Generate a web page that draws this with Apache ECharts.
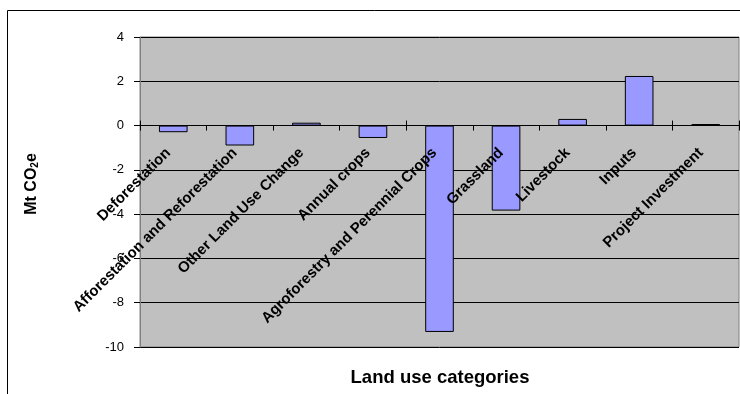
<!DOCTYPE html>
<html lang="en">
<head>
    <meta charset="UTF-8">
    <title>Land use categories</title>
    <script src="https://cdn.jsdelivr.net/npm/echarts@6/dist/echarts.min.js"></script>
    <style>
        html, body { margin: 0; padding: 0; background: #fff; }
    </style>
</head>
<body>
<div id="main" style="width: 740px;height:394px;"></div>

<script type="text/javascript">

    // data
    var categories = ['Deforestation', 'Afforestation and Reforestation', 'Other Land Use Change',
        'Annual crops', 'Agroforestry and Perennial Crops', 'Grassland', 'Livestock', 'Inputs',
        'Project Investment'];
    var values = [-0.3, -0.9, 0.13, -0.56, -9.32, -3.84, 0.3, 2.24, 0.07];
    var yTicks = [-10, -8, -6, -4, -2, 0, 2, 4];

    var font = 'Liberation Sans, Arial, sans-serif';

    // plot box
    var gridTop = 37, gridBottom = 47, chartH = 394;
    var plotH = chartH - gridTop - gridBottom;
    var yMin = yTicks[0], yMax = yTicks[yTicks.length - 1];
    // distance of the zero line from the top of the plot
    var zeroFromTop = (yMax - 0) / (yMax - yMin) * plotH;

    var myChart = echarts.init(document.getElementById('main'));

    myChart.setOption({
        animation: false,
        grid: {
            left: 140,
            top: gridTop,
            right: 1,
            bottom: gridBottom,
            containLabel: false,
            outerBoundsMode: 'none',
            show: true,
            backgroundColor: '#C0C0C0',
            borderColor: '#808080',
            borderWidth: 1
        },
        graphic: [
            {
                // outer chart frame
                type: 'rect',
                shape: {x: 7.5, y: 10.5, width: 800, height: 500},
                style: {fill: 'none', stroke: '#000', lineWidth: 1},
                silent: true
            },
            {
                type: 'text',
                x: 440,
                y: 378,
                style: {
                    text: 'Land use categories',
                    font: 'bold 18.5px ' + font,
                    fill: '#000',
                    align: 'center',
                    verticalAlign: 'middle'
                }
            }
        ],
        xAxis: [
            {
                // category axis sitting on the zero line, labels hanging below it
                type: 'category',
                data: categories,
                position: 'bottom',
                offset: -(plotH - zeroFromTop),
                z: 10,
                axisLine: {onZero: false, lineStyle: {color: '#000', width: 1}},
                axisTick: {show: true, length: 5, lineStyle: {color: '#000'}},
                axisLabel: {
                    interval: 0,
                    rotate: 45,
                    margin: 20,
                    padding: [0, 7, 0, 0],
                    color: '#000',
                    fontFamily: font,
                    fontWeight: 'bold',
                    fontSize: 15
                },
                splitLine: {show: false}
            },
            {
                // upper half of the crossing ticks
                type: 'category',
                data: categories,
                position: 'top',
                offset: -zeroFromTop,
                z: 10,
                axisLine: {onZero: false, lineStyle: {color: '#000', width: 1}},
                axisTick: {show: true, length: 5, lineStyle: {color: '#000'}},
                axisLabel: {show: false},
                splitLine: {show: false}
            }
        ],
        yAxis: {
            type: 'value',
            min: yMin,
            max: yMax,
            interval: 2,
            name: 'Mt CO{sub|2}e',
            nameLocation: 'middle',
            nameRotate: 90,
            nameGap: 100,
            nameTextStyle: {
                color: '#000',
                fontFamily: font,
                fontWeight: 'bold',
                fontSize: 16,
                padding: [0, 0, 0, 16],
                rich: {
                    sub: {
                        fontFamily: font,
                        fontWeight: 'bold',
                        fontSize: 10,
                        padding: [7, 0, 0, 0]
                    }
                }
            },
            axisLine: {show: true, onZero: false, lineStyle: {color: '#808080'}},
            axisTick: {show: true, length: 6, lineStyle: {color: '#000'}},
            axisLabel: {
                margin: 16,
                color: '#000',
                fontFamily: font,
                fontSize: 13
            },
            splitLine: {show: true, lineStyle: {color: '#000', width: 1}}
        },
        series: [{
            name: 'Mt CO2e',
            type: 'bar',
            xAxisIndex: 0,
            data: values,
            barWidth: '43%',
            itemStyle: {
                color: '#9999FF',
                borderColor: '#000',
                borderWidth: 1
            }
        }]
    });

</script>
</body>
</html>
